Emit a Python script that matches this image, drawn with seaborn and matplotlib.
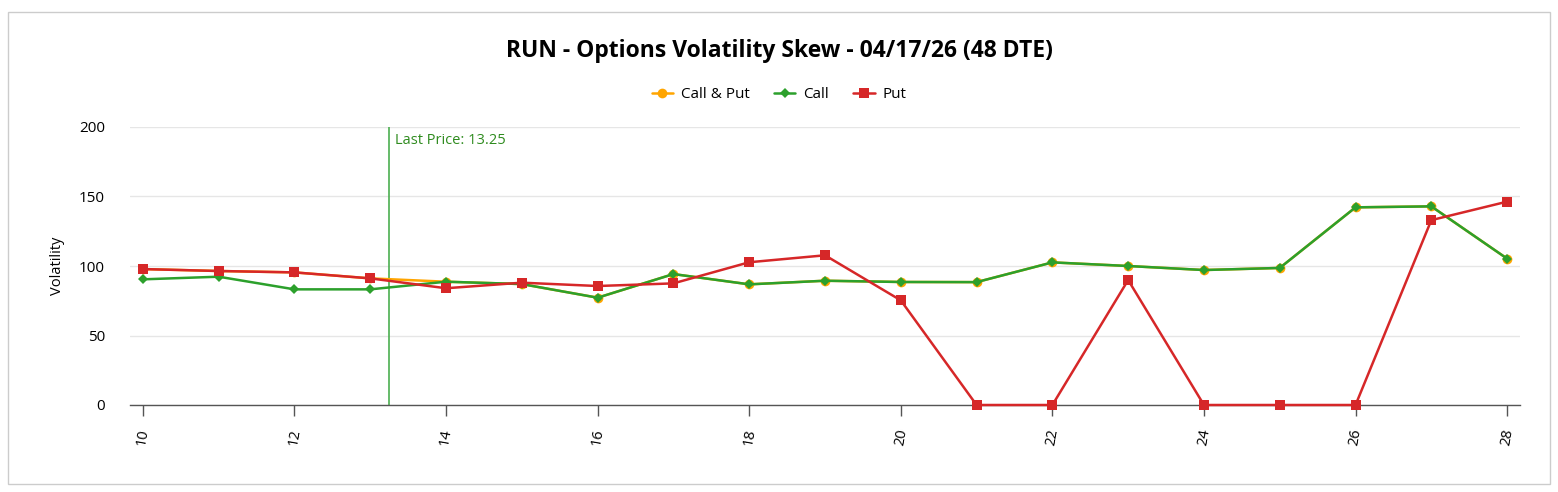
import numpy as np
import pandas as pd
import matplotlib
matplotlib.use('Agg')
import matplotlib.pyplot as plt
from matplotlib.patches import Rectangle
from matplotlib.lines import Line2D
import seaborn as sns

# ── Data ──────────────────────────────────────────────────────────────────────

strikes = [10, 11, 12, 13, 14, 15, 16, 17, 18, 19, 20, 21, 22, 23, 24, 25, 26, 27, 28]

call_vol = [90.4, 92.3, 83.2, 83.2, 88.7, 87.0, 77.2, 94.2, 86.8, 89.4,
            88.5, 88.4, 102.6, 100.0, 97.1, 98.6, 142.2, 142.9, 105.3]
put_vol = [97.8, 96.4, 95.4, 91.1, 84.0, 88.0, 85.6, 87.5, 102.7, 107.7,
           75.3, 0, 0, 89.9, 0, 0, 0, 133.0, 146.3]
call_put_vol = [97.8, 96.4, 95.4, 91.1, 88.7, 87.0, 77.2, 94.2, 86.8, 89.4,
                88.5, 88.4, 102.6, 100.0, 97.1, 98.6, 142.2, 142.9, 105.3]

last_price = 13.25
y_ticks = [0, 50, 100, 150, 200]
x_ticks = [10, 12, 14, 16, 18, 20, 22, 24, 26, 28]
title = 'RUN - Options Volatility Skew - 04/17/26 (48 DTE)'

# ── Style ─────────────────────────────────────────────────────────────────────

sns.set_theme(style='white')
plt.rcParams['font.family'] = ['Open Sans', 'DejaVu Sans']
plt.rcParams['text.color'] = 'black'
plt.rcParams['axes.labelcolor'] = 'black'
plt.rcParams['xtick.labelcolor'] = 'black'
plt.rcParams['ytick.labelcolor'] = 'black'

c_orange = '#ffa500'
c_green = '#2ca02c'
c_red = '#d62728'

df = pd.DataFrame({'Strike': strikes,
                   'Call & Put': call_put_vol,
                   'Call': call_vol,
                   'Put': put_vol})

fig = plt.figure(figsize=(15.58, 4.92), dpi=100)
fig.patches.append(Rectangle((8 / 1558, 8 / 492), 1542 / 1558, 472 / 492,
                             transform=fig.transFigure, fill=False,
                             edgecolor='#cccccc', linewidth=1))
ax = fig.add_axes([130 / 1558, 87 / 492, 1390 / 1558, 278 / 492])

series = [('Call & Put', c_orange, 'o', 7),
          ('Call', c_green, 'D', 5.5),
          ('Put', c_red, 's', 7.5)]
for name, color, marker, ms in series:
    sns.lineplot(data=df, x='Strike', y=name, ax=ax, color=color, marker=marker,
                 markersize=ms, markeredgewidth=0, linewidth=1.8, clip_on=False,
                 zorder=3)

# Last price marker
ax.axvline(last_price, color='#4caf50', linewidth=1.2, zorder=2)
ax.text(last_price + 0.08, 196, f'Last Price: {last_price}', color='#2e8b1e',
        fontsize=10.5, va='top', ha='left')

# ── Axes ──────────────────────────────────────────────────────────────────────

ax.set_xlim(9.83, 28.17)
ax.set_ylim(0, 200)
ax.set_yticks(y_ticks)
ax.set_xticks(x_ticks)
ax.set_xticklabels([str(t) for t in x_ticks], rotation=80, fontsize=10.5)
ax.tick_params(axis='y', labelsize=11, length=0, pad=18)
ax.tick_params(axis='x', length=8, width=1, color='#555555', pad=8, bottom=True)
ax.grid(axis='y', color='#e6e6e6', linewidth=1)
ax.set_axisbelow(True)
for s in ['top', 'right', 'left']:
    ax.spines[s].set_visible(False)
ax.spines['bottom'].set_color('#555555')
ax.spines['bottom'].set_linewidth(1)
ax.set_xlabel('')
ax.set_ylabel('Volatility', fontsize=10.5, labelpad=10)

# ── Title & legend ────────────────────────────────────────────────────────────

fig.text(0.5, 1 - 51 / 492, title, ha='center', va='center',
         fontsize=16.5, fontweight='bold')

handles = [Line2D([0], [0], color=c, marker=m, markersize=ms, markeredgewidth=0,
                  linewidth=1.8) for _, c, m, ms in series]
fig.legend(handles, [s[0] for s in series], loc='center',
           bbox_to_anchor=(0.5, 1 - 95 / 492), ncol=3, frameon=False,
           fontsize=11, handlelength=1.4, columnspacing=1.6, handletextpad=0.5)

fig.savefig('out.png', dpi=100)
